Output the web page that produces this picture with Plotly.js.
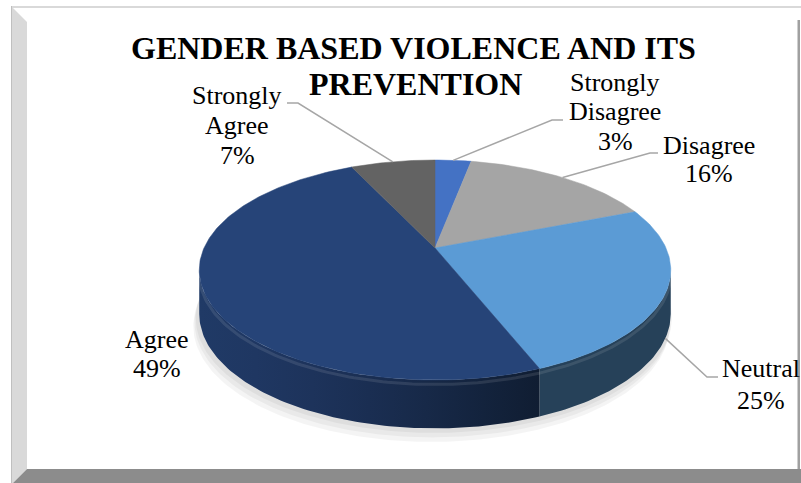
<!DOCTYPE html>
<html><head><meta charset="utf-8">
<script src="https://cdn.plot.ly/plotly-3.0.1.min.js"></script>
<style>html,body{margin:0;padding:0;background:#fff}#chart{width:801px;height:483px}</style>
</head><body><div id="chart"></div>
<script>
// ---- data ----
const titleLines = ["GENDER BASED VIOLENCE AND ITS", "PREVENTION"];
const categories = ["Strongly Disagree", "Disagree", "Neutral", "Agree", "Strongly Agree"];
const percentages = [3, 16, 25, 49, 7];
const sliceColors = ["#4472C4", "#A5A5A5", "#5B9BD5", "#264478", "#636363"];

// ---- geometry / layout (positions, not data) ----
const D2R = Math.PI / 180;
const CX = 435, CY = 248, RX = 231, RY = 105.6, K = 0.2, T = 43;
function proj(phiDeg, depth) {
  const p = phiDeg * D2R, u = Math.sin(p), v = -Math.cos(p), s = 1 / (1 - K * v);
  const sd = 1 + 0.5 * (s - 1);
  return [CX + RX * u * s, CY + RY * v * s + depth * sd];
}
const SIL_A = Math.acos(-K) / D2R, SIL_B = 360 - SIL_A;
const labelPos = [
  {x: 615, y: 82, dy: 29.5, leader: [[563, 120], [552, 120]]},
  {x: 709, y: 145, dy: 28.5, leader: [[658, 153], [650, 153]]},
  {x: 761, y: 368, dy: 32, leader: [[718, 377], [707, 377]]},
  {x: 157, y: 339, dy: 29, leader: null},
  {x: 237, y: 95, dy: 30, leader: [[287, 103], [298, 103]]}
];
const FONT = "Liberation Serif";

function hexRgb(h) { return [1, 3, 5].map(i => parseInt(h.substr(i, 2), 16)); }
function shade(h, f) { const c = hexRgb(h).map(x => Math.round(Math.min(255, x * f))); return `rgb(${c.join(',')})`; }
function light(x) {
  if (x >= 535) return 0.42;
  const t = Math.max(0, (x - 198) / 337);
  return 0.85 - 0.43 * Math.pow(t, 1.4);
}

const total = percentages.reduce((a, b) => a + b, 0);
const starts = [], ends = [];
let cum = 0;
percentages.forEach(p => { starts.push(cum / total * 360); cum += p; ends.push(cum / total * 360); });

function arc(a, b, depth) {
  const pts = [], n = Math.max(2, Math.ceil(Math.abs(b - a)));
  for (let i = 0; i <= n; i++) pts.push(proj(a + (b - a) * i / n, depth));
  return pts;
}

const traces = [];
// soft shadow
[12, 8, 4].forEach(off => {
  const pts = arc(0, 360, T + off).map(([x, y]) => [CX + (x - CX) * 1.01 - off * 0.3, y]);
  traces.push({x: pts.map(p => p[0]), y: pts.map(p => p[1]), type: 'scatter', mode: 'lines',
    fill: 'toself', fillcolor: 'rgba(0,0,0,0.045)', line: {width: 0}, hoverinfo: 'skip'});
});
// side walls (visible front part)
categories.forEach((c, i) => {
  const a = Math.max(starts[i], SIL_A), b = Math.min(ends[i], SIL_B);
  if (a >= b) return;
  const top = arc(a, b, 0), bot = arc(b, a, T);
  const pts = top.concat(bot);
  const xs = pts.map(p => p[0]);
  const xmin = Math.min(...xs), xmax = Math.max(...xs);
  const cs = [];
  for (let k = 0; k <= 6; k++) {
    const xx = xmin + (xmax - xmin) * k / 6;
    cs.push([k / 6, shade(sliceColors[i], light(xx))]);
  }
  traces.push({x: xs, y: pts.map(p => p[1]), type: 'scatter', mode: 'lines', fill: 'toself',
    fillgradient: {type: 'horizontal', colorscale: cs}, line: {width: 0}, hoverinfo: 'skip', name: c});
});
// rim highlight
{
  const pts = arc(SIL_A, SIL_B, 4);
  traces.push({x: pts.map(p => p[0]), y: pts.map(p => p[1]), type: 'scatter', mode: 'lines',
    line: {width: 3, color: 'rgba(255,255,255,0.10)'}, hoverinfo: 'skip'});
}
// top faces
categories.forEach((c, i) => {
  const pts = [[CX, CY]].concat(arc(starts[i], ends[i], 0));
  pts.push([CX, CY]);
  traces.push({x: pts.map(p => p[0]), y: pts.map(p => p[1]), type: 'scatter', mode: 'lines',
    fill: 'toself', fillcolor: sliceColors[i], line: {width: 0.5, color: sliceColors[i]}, hoverinfo: 'skip', name: c});
});
// leader lines
categories.forEach((c, i) => {
  const lp = labelPos[i];
  if (!lp.leader) return;
  const mid = (starts[i] + ends[i]) / 2;
  const end = proj(mid, (mid > SIL_A && mid < SIL_B) ? T : 0);
  const pts = lp.leader.concat([end]);
  traces.push({x: pts.map(p => p[0]), y: pts.map(p => p[1]), type: 'scatter', mode: 'lines',
    line: {width: 1.5, color: '#A6A6A6'}, hoverinfo: 'skip'});
});

// annotations
const annotations = [];
const titleY = [48, 84], titleX = [413.5, 415];
titleLines.forEach((t, i) => annotations.push({x: titleX[i], y: titleY[i], xref: 'x', yref: 'y', text: t,
  showarrow: false, xanchor: 'center', yanchor: 'middle',
  font: {family: FONT, size: 32, color: '#000', weight: 'bold'}}));
categories.forEach((c, i) => {
  const lines = c.split(' ').concat([percentages[i] + '%']);
  const lp = labelPos[i];
  lines.forEach((ln, j) => annotations.push({x: lp.x, y: lp.y + j * lp.dy, xref: 'x', yref: 'y', text: ln,
    showarrow: false, xanchor: 'center', yanchor: 'middle', font: {family: FONT, size: 26, color: '#000'}}));
});

// frame shapes
const shapes = [
  {type: 'rect', xref: 'x', yref: 'y', x0: 11, x1: 801, y0: 6, y1: 8, fillcolor: '#D9D9D9', line: {width: 0}, layer: 'below'},
  {type: 'path', xref: 'x', yref: 'y', path: 'M11,6 L27,22 L27,469 L11,485 Z', fillcolor: '#D9D9D9', line: {width: 0}, layer: 'below'},
  {type: 'line', xref: 'x', yref: 'y', x0: 11.5, x1: 11.5, y0: 6, y1: 483, line: {width: 1, color: '#BFBFBF'}, layer: 'below'},
  {type: 'path', xref: 'x', yref: 'y', path: 'M27,469 L801,469 L801,483 L13,483 Z', fillcolor: '#8C8C8C', line: {width: 0}, layer: 'below'},
  {type: 'rect', xref: 'x', yref: 'y', x0: 797.5, x1: 800, y0: 20, y1: 469, fillcolor: '#A0A0A0', line: {width: 0}, layer: 'below'}
];

const layout = {
  width: 801, height: 483, margin: {l: 0, r: 0, t: 0, b: 0},
  paper_bgcolor: '#fff', plot_bgcolor: '#fff', showlegend: false,
  xaxis: {range: [0, 801], visible: false, fixedrange: true},
  yaxis: {range: [483, 0], visible: false, fixedrange: true},
  annotations: annotations, shapes: shapes
};
Plotly.newPlot('chart', traces, layout, {staticPlot: true, displayModeBar: false});
</script></body></html>
